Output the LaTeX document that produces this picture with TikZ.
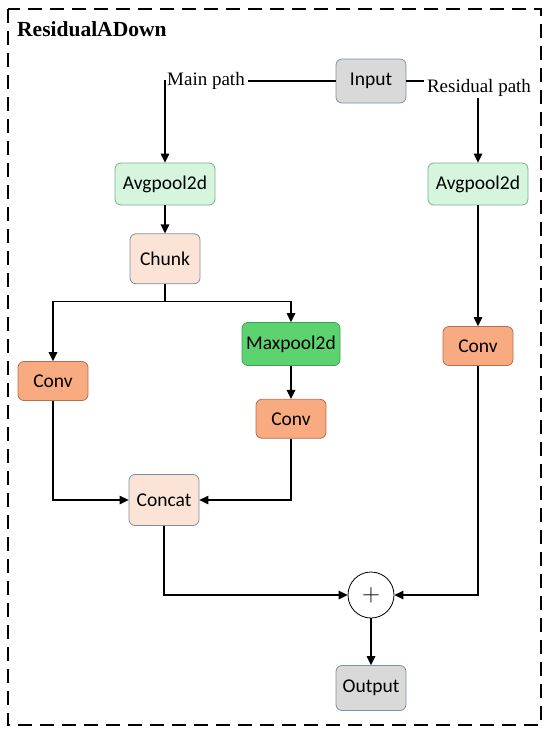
\documentclass[tikz,border=0pt]{standalone}
\usepackage{fontspec}
\setmainfont{Liberation Serif}
\newfontfamily\boxfont{Carlito}
\usepackage{xcolor}
\definecolor{ioGray}{RGB}{217,217,217}
\definecolor{ioEdge}{RGB}{125,145,165}
\definecolor{poolGreen}{RGB}{214,245,222}
\definecolor{poolEdge}{RGB}{120,175,140}
\definecolor{peachFill}{RGB}{251,228,214}
\definecolor{convFill}{RGB}{248,170,128}
\definecolor{convEdge}{RGB}{180,110,80}
\definecolor{maxFill}{RGB}{92,211,110}
\definecolor{maxEdge}{RGB}{60,160,85}
\usetikzlibrary{positioning, arrows.meta}

\begin{document}
\begin{tikzpicture}[x=1pt, y=-1pt,
  blk/.style={rectangle, rounded corners=6pt, line width=0.8pt, minimum width=70pt, minimum height=44pt, align=center, font=\boxfont\fontsize{19.5}{21}\selectfont, inner sep=2pt},
  ioblk/.style={blk, draw=ioEdge, fill=ioGray},
  poolblk/.style={blk, draw=poolEdge, fill=poolGreen, minimum width=100pt, minimum height=42pt},
  peachblk/.style={blk, draw=ioEdge, fill=peachFill, minimum height=50pt},
  convblk/.style={blk, draw=convEdge, fill=convFill, minimum height=39pt},
  maxblk/.style={blk, draw=maxEdge, fill=maxFill, minimum width=98pt, minimum height=43pt},
  pathlbl/.style={font=\fontsize{19}{21}\selectfont, inner xsep=3pt, inner ysep=1pt},
  line/.style={line width=1.4pt, black},
  arr/.style={line, -{Triangle[length=9pt, width=8.5pt]}},
  frame/.style={line width=1.2pt, dash pattern=on 14pt off 8pt}
]
\useasboundingbox (0,0) rectangle (550,734);
\draw[frame] (8,9) rectangle (541,725);
\node[anchor=west, font=\bfseries\fontsize{21.5}{23}\selectfont, inner sep=2pt] (title) at (15,29) {ResidualADown};

\node[ioblk] (input) at (371,81) {Input};
\node[pathlbl, anchor=west] (mainlbl) at (164,81) {Main path};
\node[pathlbl] (reslbl) at (479,88) {Residual path};

\node[poolblk] (avgA) at (165,184) {Avgpool2d};
\node[poolblk] (avgB) at (478,184) {Avgpool2d};
\node[peachblk, below=28pt of avgA] (chunk) {Chunk};
\node[convblk] (convL) at (53,381) {Conv};
\node[maxblk] (maxp) at (291,344) {Maxpool2d};
\node[convblk, below=33pt of maxp] (convM) {Conv};
\node[convblk] (convR) at (478,346) {Conv};
\node[peachblk, minimum height=51pt] (concat) at (164,500) {Concat};
\node[circle, draw, line width=0.8pt, minimum size=46pt, inner sep=0pt] (plus) at (371,595) {\fontsize{26}{26}\selectfont$+$};
\node[ioblk, minimum height=45pt] (output) at (371,688) {Output};

% main path
\draw[line] (input.west) -- (mainlbl.east);
\draw[arr] (mainlbl.west) -| (avgA.north);
\draw[arr] (avgA) -- (chunk);
\draw[line] (chunk.south) -- ++(0,17) coordinate (split);
\draw[arr] (split) -| (convL.north);
\draw[arr] (split) -| (maxp.north);
\draw[arr] (maxp) -- (convM);
\draw[arr] (convL.south) |- (concat.west);
\draw[arr] (convM.south) |- (concat.east);
\draw[arr] (concat.south) |- (plus.west);

% residual path
\draw[line] (input.east) -- (input.east -| reslbl.west);
\draw[arr] (avgB.north |- reslbl.south) -- (avgB.north);
\draw[arr] (avgB) -- (convR);
\draw[arr] (convR.south) |- (plus.east);

\draw[arr] (plus) -- (output);
\end{tikzpicture}
\end{document}
